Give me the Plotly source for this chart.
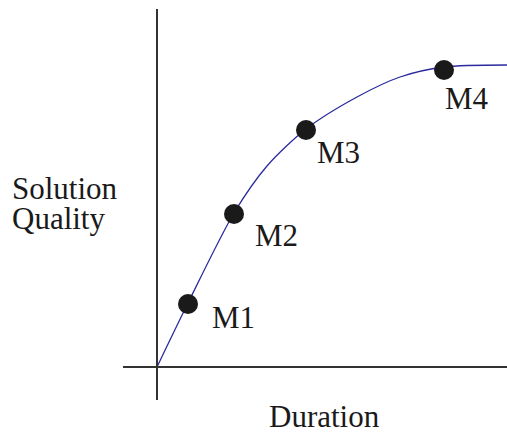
import plotly.graph_objects as go

# curve through the milestones (duration vs. solution quality)
curve_x = [0, 31, 77, 110, 149, 200, 243, 287, 350]
curve_y = [0, 64, 154, 201, 238, 270, 290, 300, 302]

# milestone points and labels
m_names = ["M1", "M2", "M3", "M4"]
m_x = [31, 77, 149, 287]
m_y = [63, 153, 237, 297]
m_shift = [(22, -13), (19, -21), (9, -22), (-1, -28)]

fig = go.Figure()

fig.add_trace(go.Scatter(
    x=curve_x, y=curve_y, mode="lines",
    line=dict(color="#2a2a9e", width=1.3, shape="spline", smoothing=0.8),
    hoverinfo="skip"
))
fig.add_trace(go.Scatter(
    x=m_x, y=m_y, mode="markers",
    marker=dict(color="#1a1a1a", size=20)
))

serif = dict(family="Liberation Serif, Times New Roman, Times, serif",
             size=31, color="#1a1a1a")

for name, x, y, (dx, dy) in zip(m_names, m_x, m_y, m_shift):
    fig.add_annotation(x=x, y=y, text=name, showarrow=False,
                       xanchor="left", yanchor="middle",
                       xshift=dx, yshift=dy, font=serif)

# axis lines
fig.add_shape(type="line", x0=0, x1=0, y0=-33, y1=358,
              line=dict(color="#333333", width=2))
fig.add_shape(type="line", x0=-34, x1=350, y0=0, y1=0,
              line=dict(color="#333333", width=2))

fig.add_annotation(x=-147, y=179, text="Solution", showarrow=False,
                   xanchor="left", yanchor="middle", font=serif)
fig.add_annotation(x=-147, y=149, text="Quality", showarrow=False,
                   xanchor="left", yanchor="middle", font=serif)
fig.add_annotation(x=167, y=-49, text="Duration", showarrow=False,
                   xanchor="center", yanchor="middle", font=serif)

fig.update_xaxes(range=[-157, 350], visible=False)
fig.update_yaxes(range=[-68, 367], visible=False)
fig.update_layout(
    width=507, height=435,
    margin=dict(l=0, r=0, t=0, b=0),
    showlegend=False,
    plot_bgcolor="white", paper_bgcolor="white"
)

# drop the default body margin so the figure fills the window
fig.write_html("out.html", config={"displayModeBar": False},
               post_script="document.body.style.margin='0';")
